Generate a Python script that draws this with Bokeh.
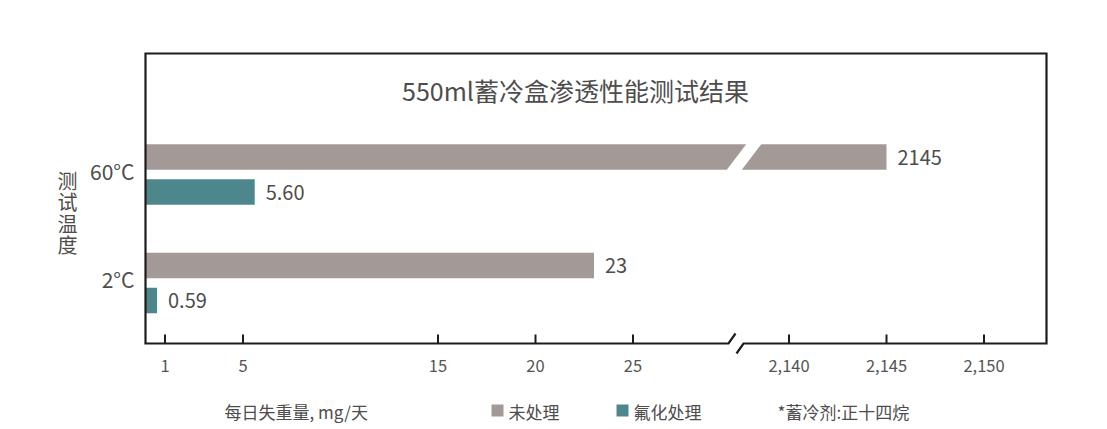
from bokeh.plotting import figure
from bokeh.models import Range1d
from bokeh.core.properties import value
from bokeh.embed import file_html
from bokeh.resources import INLINE

# ---------------- data ----------------
title_text = "550ml蓄冷盒渗透性能测试结果"
categories = ["60°C", "2°C"]
series_names = ["未处理", "氟化处理"]
untreated = [2145, 23]
fluorinated = [5.60, 0.59]
left_ticks = [1, 5, 15, 20, 25]
right_ticks = [2140, 2145, 2150]
y_axis_title = "测试温度"
x_axis_title = "每日失重量, mg/天"
footnote = "*蓄冷剂:正十四烷"
colors = ["#A39A97", "#4E878B"]

FONT = "Noto Sans CJK SC"
TEXT = "#4d4d4d"
TICK_TEXT = "#555555"
LINE = "#1c1c1c"

# ---------------- broken axis mapping ----------------
BREAK = 30.5      # left segment shows 0 .. BREAK
OFFSET = 2107     # right-segment values drawn at v - OFFSET


def xmap(v):
    return v if v < BREAK else v - OFFSET


KX = 19.5     # px per x unit
KY = 108.5    # px per category step
BOX_L_PX, BOX_R_PX, BOX_T_PX, BOX_B_PX = 145, 1046, 53, 343
CAT_TOP_PX = 174  # pixel of first category centre (60°C -> y=1)


def px_x(px):
    return (px - BOX_L_PX) / KX


def px_y(py):
    return 1 + (CAT_TOP_PX - py) / KY


BOX_R = px_x(BOX_R_PX)
BOX_T = px_y(BOX_T_PX)
BOX_B = px_y(BOX_B_PX)

W, H = 1100, 425

p = figure(width=W, height=H, output_backend="svg", toolbar_location=None,
           x_range=Range1d(px_x(0), px_x(W)), y_range=Range1d(px_y(H), px_y(0)),
           x_axis_location=None, y_axis_location=None,
           min_border=0, min_border_left=0, min_border_right=0,
           min_border_top=0, min_border_bottom=0)
p.outline_line_color = None
p.grid.visible = False
p.background_fill_color = "white"
p.border_fill_color = "white"

# ---------------- bars ----------------
cat_y = [1, 0]  # 60°C on top
OFF = 17.5 / KY
BAR_H = 25.5 / KY
p.hbar(y=[c + OFF for c in cat_y], left=0, right=[xmap(v) for v in untreated],
       height=BAR_H, fill_color=colors[0], line_color=None)
p.hbar(y=[c - OFF for c in cat_y], left=0, right=[xmap(v) for v in fluorinated],
       height=BAR_H, fill_color=colors[1], line_color=None)

# break gap across long bars
gap_c = px_x(743.5)
half_w = 7.5 / KX
for c, v in zip(cat_y, untreated):
    if v >= BREAK:
        yc = c + OFF
        hh = 15
        sl = 0.76 * hh / KX
        yb = yc - hh / KY
        yt = yc + hh / KY
        p.patch(x=[gap_c - half_w - sl, gap_c - half_w + sl, gap_c + half_w + sl, gap_c + half_w - sl],
                y=[yb, yt, yt, yb], fill_color="white", line_color=None)

# value labels
LBL_OFF = 11 / KX
p.text(x=[xmap(v) + LBL_OFF for v in untreated], y=[c + OFF for c in cat_y],
       text=[f"{v:g}" for v in untreated], text_baseline="middle", text_align="left",
       text_font=value(FONT), text_font_size="20px", text_color=TEXT)
p.text(x=[xmap(v) + LBL_OFF for v in fluorinated], y=[c - OFF for c in cat_y],
       text=[f"{v:.2f}" for v in fluorinated], text_baseline="middle", text_align="left",
       text_font=value(FONT), text_font_size="20px", text_color=TEXT)

# ---------------- frame with axis break ----------------
ax_l_end = px_x(728)
ax_r_start = px_x(743)
sl_dx = 7 / KX
sl_dy = 10 / KY
frame_x = [ax_l_end + sl_dx, ax_l_end, 0, 0, BOX_R, BOX_R, ax_r_start, ax_r_start - sl_dx]
frame_y = [BOX_B + sl_dy, BOX_B, BOX_B, BOX_T, BOX_T, BOX_B, BOX_B, BOX_B - sl_dy]
p.line(frame_x, frame_y, line_color=LINE, line_width=2.2, line_join="miter")

tick_vals = left_ticks + right_ticks
tick_x = [xmap(t) for t in tick_vals]
p.segment(x0=tick_x, x1=tick_x, y0=[BOX_B] * len(tick_x),
          y1=[BOX_B + 9 / KY] * len(tick_x), line_color=LINE, line_width=2)

# tick labels
p.text(x=tick_x, y=[px_y(365)] * len(tick_x), text=[f"{t:,}" for t in tick_vals],
       text_align="center", text_baseline="middle", text_font=value(FONT),
       text_font_size="16.5px", text_color=TICK_TEXT)

# category labels
p.text(x=[px_x(134)] * len(cat_y), y=[c + 4 / KY for c in cat_y], text=categories,
       text_align="right", text_baseline="middle", text_font=value(FONT),
       text_font_size="21px", text_color=TEXT)

# y-axis title, stacked upright characters
chars = list(y_axis_title)
p.text(x=[px_x(67)] * len(chars), y=[px_y(180 + i * 21.3) for i in range(len(chars))],
       text=chars, text_align="center", text_baseline="middle", text_font=value(FONT),
       text_font_size="20px", text_color=TEXT)

# title
p.text(x=[px_x(575)], y=[px_y(89)], text=[title_text], text_align="center",
       text_baseline="middle", text_font=value(FONT), text_font_size="25px",
       text_color=TEXT)

# bottom row: x-axis title, legend, footnote
ROW_Y = px_y(411)
p.text(x=[px_x(224)], y=[ROW_Y], text=[x_axis_title], text_align="left",
       text_baseline="middle", text_font=value(FONT), text_font_size="17px",
       text_color=TEXT)

sw_x = [491, 616]
p.quad(left=[px_x(s) for s in sw_x], right=[px_x(s + 12) for s in sw_x],
       top=[px_y(404)] * 2, bottom=[px_y(416)] * 2, fill_color=colors, line_color=None)
p.text(x=[px_x(s + 17) for s in sw_x], y=[ROW_Y] * 2, text=series_names,
       text_align="left", text_baseline="middle", text_font=value(FONT),
       text_font_size="17px", text_color=TEXT)

p.text(x=[px_x(777)], y=[ROW_Y], text=[footnote], text_align="left",
       text_baseline="middle", text_font=value(FONT), text_font_size="17px",
       text_color=TEXT)

open("out.html", "w").write(file_html(p, INLINE))
